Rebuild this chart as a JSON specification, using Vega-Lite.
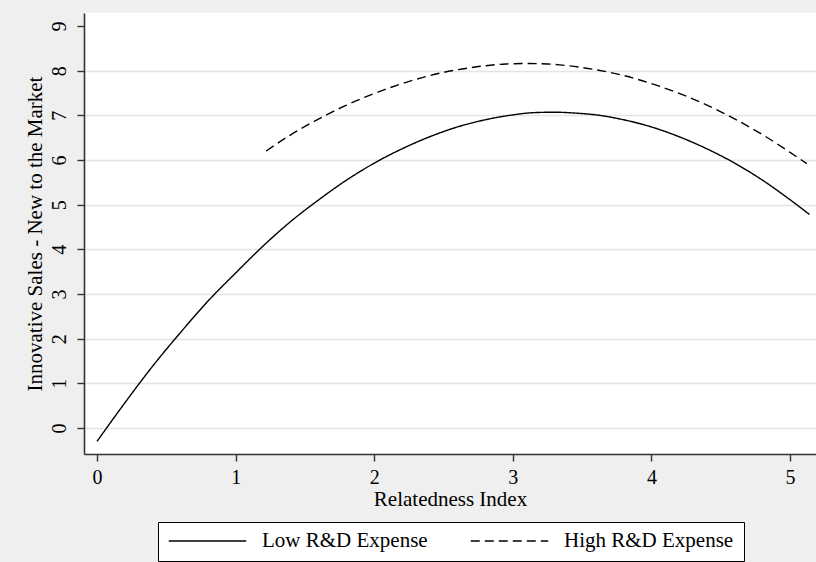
{
  "$schema": "https://vega.github.io/schema/vega-lite/v6.json",
  "width": 732,
  "height": 441,
  "autosize": {"type": "none"},
  "padding": {"left": 84, "top": 13, "right": 0, "bottom": 108},
  "background": "#efefef",
  "view": {"fill": "white", "stroke": null},
  "config": {
    "font": "Liberation Serif",
    "axis": {
      "labelFont": "Liberation Serif",
      "titleFont": "Liberation Serif",
      "labelFontSize": 20,
      "titleFontSize": 21,
      "labelColor": "black",
      "titleColor": "black",
      "titleFontWeight": "normal",
      "domainColor": "#333333",
      "domainWidth": 1.6,
      "tickColor": "#333333",
      "tickWidth": 1.4,
      "tickSize": 7
    },
    "legend": {
      "labelFont": "Liberation Serif",
      "labelFontSize": 21,
      "labelColor": "black",
      "labelLimit": 400
    }
  },
  "data": {
    "values": [
      {"x": 0.0, "y": -0.30, "g": "Low R&D Expense"},
      {"x": 0.2, "y": 0.56, "g": "Low R&D Expense"},
      {"x": 0.4, "y": 1.38, "g": "Low R&D Expense"},
      {"x": 0.6, "y": 2.13, "g": "Low R&D Expense"},
      {"x": 0.8, "y": 2.84, "g": "Low R&D Expense"},
      {"x": 1.0, "y": 3.47, "g": "Low R&D Expense"},
      {"x": 1.2, "y": 4.08, "g": "Low R&D Expense"},
      {"x": 1.4, "y": 4.63, "g": "Low R&D Expense"},
      {"x": 1.6, "y": 5.11, "g": "Low R&D Expense"},
      {"x": 1.8, "y": 5.55, "g": "Low R&D Expense"},
      {"x": 2.0, "y": 5.93, "g": "Low R&D Expense"},
      {"x": 2.2, "y": 6.25, "g": "Low R&D Expense"},
      {"x": 2.4, "y": 6.52, "g": "Low R&D Expense"},
      {"x": 2.6, "y": 6.74, "g": "Low R&D Expense"},
      {"x": 2.8, "y": 6.90, "g": "Low R&D Expense"},
      {"x": 3.0, "y": 7.01, "g": "Low R&D Expense"},
      {"x": 3.15, "y": 7.06, "g": "Low R&D Expense"},
      {"x": 3.3, "y": 7.07, "g": "Low R&D Expense"},
      {"x": 3.45, "y": 7.05, "g": "Low R&D Expense"},
      {"x": 3.6, "y": 7.01, "g": "Low R&D Expense"},
      {"x": 3.8, "y": 6.90, "g": "Low R&D Expense"},
      {"x": 4.0, "y": 6.74, "g": "Low R&D Expense"},
      {"x": 4.2, "y": 6.52, "g": "Low R&D Expense"},
      {"x": 4.4, "y": 6.25, "g": "Low R&D Expense"},
      {"x": 4.6, "y": 5.93, "g": "Low R&D Expense"},
      {"x": 4.8, "y": 5.55, "g": "Low R&D Expense"},
      {"x": 5.0, "y": 5.11, "g": "Low R&D Expense"},
      {"x": 5.14, "y": 4.78, "g": "Low R&D Expense"},
      {"x": 1.22, "y": 6.20, "g": "High R&D Expense"},
      {"x": 1.4, "y": 6.57, "g": "High R&D Expense"},
      {"x": 1.6, "y": 6.92, "g": "High R&D Expense"},
      {"x": 1.8, "y": 7.23, "g": "High R&D Expense"},
      {"x": 2.0, "y": 7.49, "g": "High R&D Expense"},
      {"x": 2.2, "y": 7.71, "g": "High R&D Expense"},
      {"x": 2.4, "y": 7.89, "g": "High R&D Expense"},
      {"x": 2.6, "y": 8.02, "g": "High R&D Expense"},
      {"x": 2.8, "y": 8.11, "g": "High R&D Expense"},
      {"x": 2.95, "y": 8.15, "g": "High R&D Expense"},
      {"x": 3.1, "y": 8.16, "g": "High R&D Expense"},
      {"x": 3.25, "y": 8.15, "g": "High R&D Expense"},
      {"x": 3.4, "y": 8.11, "g": "High R&D Expense"},
      {"x": 3.6, "y": 8.02, "g": "High R&D Expense"},
      {"x": 3.8, "y": 7.89, "g": "High R&D Expense"},
      {"x": 4.0, "y": 7.71, "g": "High R&D Expense"},
      {"x": 4.2, "y": 7.49, "g": "High R&D Expense"},
      {"x": 4.4, "y": 7.23, "g": "High R&D Expense"},
      {"x": 4.6, "y": 6.92, "g": "High R&D Expense"},
      {"x": 4.8, "y": 6.57, "g": "High R&D Expense"},
      {"x": 5.0, "y": 6.17, "g": "High R&D Expense"},
      {"x": 5.12, "y": 5.92, "g": "High R&D Expense"}
    ]
  },
  "mark": {"type": "line", "color": "black", "strokeWidth": 1.4, "interpolate": "monotone", "clip": true},
  "encoding": {
    "x": {
      "field": "x",
      "type": "quantitative",
      "scale": {"domain": [-0.094, 5.187], "nice": false, "zero": false},
      "axis": {
        "values": [0, 1, 2, 3, 4, 5],
        "grid": false,
        "title": "Relatedness Index",
        "labelPadding": 6,
        "titlePadding": 1
      }
    },
    "y": {
      "field": "y",
      "type": "quantitative",
      "scale": {"domain": [-0.582, 9.291], "nice": false, "zero": false},
      "axis": {
        "values": [0, 1, 2, 3, 4, 5, 6, 7, 8, 9],
        "grid": true,
        "gridColor": {"condition": {"test": "datum.value == 9", "value": "white"}, "value": "#e4e4e4"},
        "gridWidth": 1.3,
        "labelAngle": -90,
        "labelAlign": "center",
        "labelBaseline": "bottom",
        "labelPadding": 8,
        "title": "Innovative Sales - New to the Market",
        "titlePadding": 4
      }
    },
    "strokeDash": {
      "field": "g",
      "type": "nominal",
      "scale": {"domain": ["Low R&D Expense", "High R&D Expense"], "range": [[1, 0], [9, 5]]},
      "legend": {
        "title": null,
        "orient": "none",
        "legendX": 74,
        "legendY": 509,
        "direction": "horizontal",
        "strokeColor": "black",
        "fillColor": "white",
        "padding": 10,
        "clipHeight": 18,
        "symbolType": "stroke",
        "symbolSize": 6000,
        "symbolStrokeColor": "black",
        "symbolStrokeWidth": 1.3,
        "labelOffset": 15,
        "columnPadding": 42
      }
    }
  }
}
